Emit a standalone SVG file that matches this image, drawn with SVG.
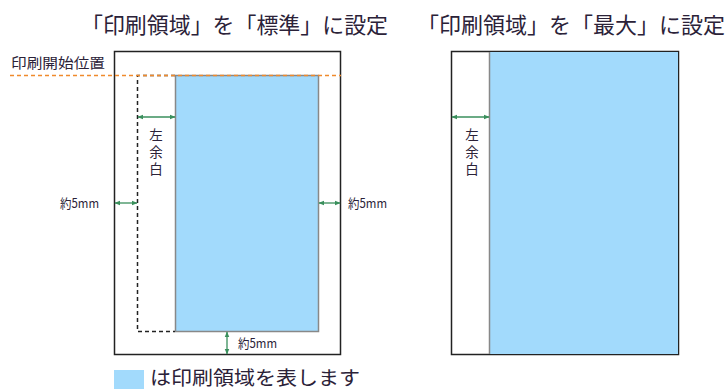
<svg xmlns="http://www.w3.org/2000/svg" width="727" height="389" viewBox="0 0 727 389">
<defs>
<marker id="ah" viewBox="0 0 10 10" refX="9" refY="5" markerWidth="6" markerHeight="6" orient="auto-start-reverse" markerUnits="userSpaceOnUse">
<path d="M0,1 L10,5 L0,9 z" fill="#3a8f5c"/>
</marker>
<style>
text{font-family:"Noto Sans CJK JP","Noto Sans",sans-serif;fill:#2b2238}
.title{font-size:22px}
.lbl{font-size:13px}
.page{fill:#fff;stroke:#222;stroke-width:1.5}
.area{fill:#a2dafc;stroke:#888;stroke-width:1.5}
.dim{stroke:#3a8f5c;stroke-width:1.3;fill:none;marker-start:url(#ah);marker-end:url(#ah)}
.dash{stroke:#222;stroke-width:1.5;stroke-dasharray:4 3;fill:none}
.vt{font-size:13.5px;text-anchor:middle}
</style>
</defs>
<rect width="727" height="389" fill="#fff"/>
<g id="title-std"><text class="title" x="81" y="33" textLength="307" lengthAdjust="spacingAndGlyphs">「印刷領域」を「標準」に設定</text></g>
<g id="title-max"><text class="title" x="417" y="33" textLength="308" lengthAdjust="spacingAndGlyphs">「印刷領域」を「最大」に設定</text></g>

<g id="page-std">
<rect class="page" x="114.5" y="51.5" width="226" height="303"/>
<rect class="area" x="175.5" y="75.5" width="143" height="256"/>
<path class="dash" d="M175,75.5 H137.5 V331.5 H175"/>
</g>
<g id="start-line">
<line x1="10" y1="75.5" x2="341" y2="75.5" stroke="#f08a2c" stroke-width="1.5" stroke-dasharray="4 3"/>
<text x="11" y="68" style="font-size:14px" textLength="94" lengthAdjust="spacingAndGlyphs">印刷開始位置</text>
</g>
<g id="margin-std">
<text class="vt" x="156" y="140">左</text>
<text class="vt" x="156" y="157">余</text>
<text class="vt" x="156" y="174">白</text>
</g>
<g id="page-max">
<rect class="page" x="451.5" y="51.5" width="227" height="303"/>
<rect x="489" y="52" width="189" height="302" fill="#a2dafc"/>
<line x1="489.5" y1="52" x2="489.5" y2="354" stroke="#888" stroke-width="1.5"/>
<text class="vt" x="472" y="140">左</text>
<text class="vt" x="472" y="157">余</text>
<text class="vt" x="472" y="174">白</text>
</g>
<g id="labels">
<text class="lbl" x="60" y="208" textLength="39" lengthAdjust="spacingAndGlyphs">約5mm</text>
<text class="lbl" x="348" y="208" textLength="39" lengthAdjust="spacingAndGlyphs">約5mm</text>
<text class="lbl" x="238" y="348" textLength="39" lengthAdjust="spacingAndGlyphs">約5mm</text>
</g>
<g id="connectors">
<line class="dim" x1="138" y1="117" x2="175" y2="117"/>
<line class="dim" x1="115" y1="203" x2="137" y2="203"/>
<line class="dim" x1="319" y1="203" x2="340" y2="203"/>
<line class="dim" x1="227" y1="332" x2="227" y2="354"/>
<line class="dim" x1="452" y1="117" x2="489" y2="117"/>
</g>
<g id="legend">
<rect x="114" y="370" width="30" height="19" fill="#a2dafc"/>
<text x="150" y="385" style="font-size:19.5px" textLength="210" lengthAdjust="spacingAndGlyphs">は印刷領域を表します</text>
</g>
</svg>
